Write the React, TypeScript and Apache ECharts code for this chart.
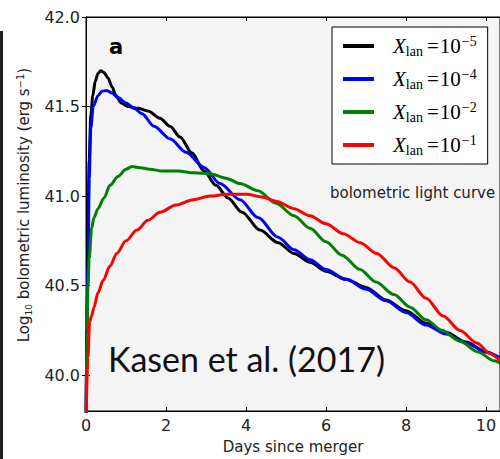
import React, { useEffect, useRef } from 'react';
import * as echarts from 'echarts';

// ---- data ----
const seriesNames = ['Xlan=1e-5', 'Xlan=1e-4', 'Xlan=1e-2', 'Xlan=1e-1'];
const exponents = ['−5', '−4', '−2', '−1'];
const colors = ['#000000', '#0000ff', '#008000', '#ff0000'];

const daysA = [0, 0.04, 0.08, 0.12, 0.17, 0.23, 0.3, 0.37, 0.45, 0.55, 0.65, 0.75, 0.88, 1.05, 1.3, 1.55, 1.85, 2.1, 2.35, 2.65, 2.95, 3.25, 3.55, 3.9, 4.35, 4.8, 5.2, 5.6, 6.0, 6.5, 7.0, 7.5, 8.0, 8.5, 9.0, 9.5, 10.0, 10.4];
const lumA = [39.7, 40.6, 41.2, 41.45, 41.56, 41.64, 41.685, 41.7, 41.69, 41.66, 41.61, 41.56, 41.52, 41.5, 41.49, 41.475, 41.435, 41.39, 41.33, 41.24, 41.14, 41.06, 40.99, 40.91, 40.81, 40.74, 40.68, 40.63, 40.58, 40.535, 40.49, 40.42, 40.36, 40.29, 40.24, 40.185, 40.13, 40.08];

const daysB = [0, 0.02, 0.05, 0.08, 0.12, 0.18, 0.3, 0.4, 0.52, 0.65, 0.8, 1.0, 1.2, 1.4, 1.7, 2.1, 2.5, 2.95, 3.35, 3.85, 4.3, 4.8, 5.2, 5.6, 6.0, 6.5, 7.0, 7.5, 8.0, 8.5, 9.0, 9.5, 10.0, 10.4];
const lumB = [39.7, 40.3, 40.6, 41.1, 41.38, 41.5, 41.56, 41.585, 41.59, 41.575, 41.55, 41.52, 41.49, 41.46, 41.39, 41.32, 41.245, 41.16, 41.07, 40.98, 40.88, 40.77, 40.7, 40.645, 40.59, 40.535, 40.48, 40.415, 40.35, 40.28, 40.23, 40.18, 40.13, 40.09];

const daysC = [0, 0.02, 0.05, 0.08, 0.14, 0.2, 0.3, 0.45, 0.6, 0.8, 1.0, 1.15, 1.3, 1.6, 1.9, 2.3, 2.7, 3.1, 3.5, 3.85, 4.3, 4.75, 5.2, 5.6, 6.0, 6.4, 6.85, 7.25, 7.7, 8.1, 8.5, 8.9, 9.35, 9.8, 10.2, 10.4];
const lumC = [39.7, 40.25, 40.5, 40.65, 40.82, 40.88, 40.93, 40.99, 41.06, 41.11, 41.15, 41.165, 41.16, 41.15, 41.14, 41.14, 41.13, 41.125, 41.1, 41.07, 41.03, 40.96, 40.89, 40.82, 40.745, 40.67, 40.59, 40.52, 40.45, 40.38, 40.31, 40.25, 40.19, 40.13, 40.08, 40.06];

const daysD = [0, 0.05, 0.09, 0.14, 0.2, 0.3, 0.43, 0.6, 0.77, 1.0, 1.27, 1.55, 1.85, 2.25, 2.68, 3.1, 3.52, 4.02, 4.4, 4.77, 5.2, 5.6, 6.0, 6.43, 6.85, 7.27, 7.7, 8.1, 8.5, 8.93, 9.35, 9.77, 10.1, 10.4];
const lumD = [39.75, 40.1, 40.3, 40.33, 40.38, 40.46, 40.53, 40.61, 40.68, 40.75, 40.81, 40.865, 40.91, 40.95, 40.98, 41.0, 41.01, 41.01, 40.995, 40.97, 40.93, 40.89, 40.845, 40.79, 40.74, 40.68, 40.6, 40.52, 40.43, 40.33, 40.25, 40.18, 40.12, 40.07];

const allDays = [daysA, daysB, daysC, daysD];
const allLum = [lumA, lumB, lumC, lumD];

const yTicks = [40.0, 40.5, 41.0, 41.5, 42.0];

const FONT = 'DejaVu Sans';
const SERIF = 'Liberation Serif';

export default function App() {
  const ref = useRef<HTMLDivElement>(null);
  useEffect(() => {
    document.body.style.margin = '0';
    const chart = echarts.init(ref.current!, null, { renderer: 'svg' });
    const series = seriesNames.map((name, i) => ({
      name,
      type: 'line',
      data: allDays[i].map((d, j) => [d, allLum[i][j]]),
      showSymbol: false,
      smooth: 0.3,
      smoothMonotone: 'x',
      clip: true,
      lineStyle: { color: colors[i], width: 3 },
      itemStyle: { color: colors[i] },
    }));
    const expMap: Record<string, string> = {};
    seriesNames.forEach((n, i) => (expMap[n] = exponents[i]));
    chart.setOption({
      animation: false,
      backgroundColor: '#ffffff',
      grid: {
        left: 86,
        top: 17,
        right: 0,
        bottom: 46,
        show: true,
        backgroundColor: '#f4f4f4',
        borderColor: '#000',
        borderWidth: 1,
      },
      xAxis: [
        {
          type: 'value',
          min: 0,
          max: 10.35,
          interval: 2,
          name: 'Days since merger',
          nameLocation: 'middle',
          nameGap: 28,
          nameTextStyle: { fontFamily: FONT, fontSize: 15, color: '#222' },
          axisLine: { show: true, lineStyle: { color: '#000', width: 1 } },
          axisTick: { show: true, inside: true, length: 4, lineStyle: { color: '#000' } },
          axisLabel: { fontFamily: FONT, fontSize: 16, color: '#222', margin: 6 },
          splitLine: { show: false },
        },
        {
          type: 'value',
          position: 'top',
          min: 0,
          max: 10.35,
          interval: 2,
          axisLine: { show: true, lineStyle: { color: '#000', width: 1 } },
          axisTick: { show: true, inside: true, length: 4, lineStyle: { color: '#000' } },
          axisLabel: { show: false },
          splitLine: { show: false },
        },
      ],
      yAxis: [
        {
          type: 'value',
          min: 39.8,
          max: 42.0,
          name: '{b|Log}{s|10}{a| bolometric luminosity (erg s}{p|−1}{a|)}',
          nameLocation: 'middle',
          nameGap: 53,
          nameTextStyle: {
            color: '#222',
            rich: {
              b: { fontFamily: FONT, fontSize: 15, color: '#222', lineHeight: 18, padding: [0, 0, 0, 18] },
              a: { fontFamily: FONT, fontSize: 15, color: '#222', lineHeight: 18 },
              s: { fontFamily: FONT, fontSize: 9, color: '#222', lineHeight: 8, verticalAlign: 'bottom' },
              p: { fontFamily: FONT, fontSize: 10, color: '#222', lineHeight: 10, verticalAlign: 'top' },
            },
          },
          axisLine: { show: true, lineStyle: { color: '#000', width: 1 } },
          axisTick: { show: true, inside: true, length: 4, customValues: yTicks, lineStyle: { color: '#000' } },
          axisLabel: {
            fontFamily: FONT,
            fontSize: 16,
            color: '#222',
            margin: 6,
            customValues: yTicks,
            formatter: (v: number) => v.toFixed(1),
          },
          splitLine: { show: false },
        },
        {
          type: 'value',
          position: 'right',
          min: 39.8,
          max: 42.0,
          axisLine: { show: true, lineStyle: { color: '#000', width: 1 } },
          axisTick: { show: true, inside: true, length: 4, customValues: yTicks, lineStyle: { color: '#000' } },
          axisLabel: { show: false, customValues: yTicks },
          splitLine: { show: false },
        },
      ],
      legend: {
        left: 332,
        top: 27,
        orient: 'vertical',
        selectedMode: false,
        icon: 'rect',
        itemWidth: 31,
        itemHeight: 4,
        itemGap: 9,
        padding: [7, 11, 7, 11],
        backgroundColor: '#ffffff',
        borderColor: '#000',
        borderWidth: 1,
        borderRadius: 0,
        data: seriesNames,
        formatter: (name: string) => `{x|X}{sub|lan}{eq|=}{ten|10}{sup|${expMap[name]}}`,
        textStyle: {
          rich: {
            x: { fontFamily: SERIF, fontStyle: 'italic', fontSize: 21, color: '#000', lineHeight: 24, padding: [0, 0, 0, 14] },
            sub: { fontFamily: SERIF, fontSize: 14, color: '#000', lineHeight: 10, verticalAlign: 'bottom' },
            eq: { fontFamily: SERIF, fontSize: 21, color: '#000', lineHeight: 24, padding: [0, 1, 0, 4] },
            ten: { fontFamily: SERIF, fontSize: 21, color: '#000', lineHeight: 24 },
            sup: { fontFamily: SERIF, fontSize: 14, color: '#000', lineHeight: 12, verticalAlign: 'top', padding: [0, 0, 0, 1] },
          },
        },
      },
      graphic: [
        { type: 'rect', left: 0, top: 31, shape: { x: 0, y: 0, width: 3, height: 428 }, style: { fill: '#1e1e1e' } },
        { type: 'text', x: 109, y: 47, style: { text: 'a', fontFamily: FONT, fontWeight: 'bold', fontSize: 21, fill: '#000', verticalAlign: 'middle' } },
        { type: 'text', x: 330, y: 193, style: { text: 'bolometric light curve', fontFamily: FONT, fontSize: 15, fill: '#222', verticalAlign: 'middle' } },
        { type: 'text', x: 108, y: 358, style: { text: 'Kasen et al. (2017)', fontFamily: 'Lato', fontSize: 34, fill: '#111', verticalAlign: 'middle' } },
      ],
      series,
    });
    return () => chart.dispose();
  }, []);
  return <div ref={ref} style={{ position: 'absolute', left: 0, top: 0, width: 500, height: 459 }} />;
}
